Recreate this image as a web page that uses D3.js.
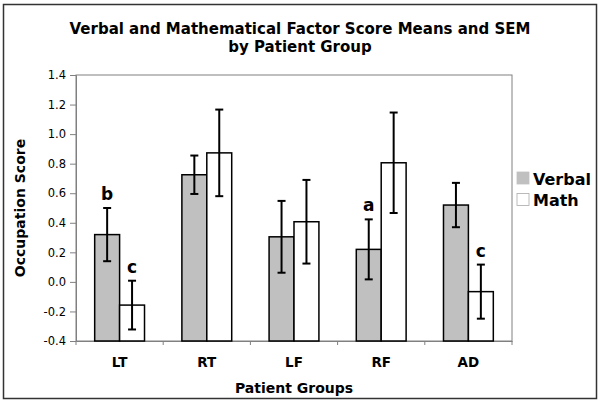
<!DOCTYPE html>
<html><head><meta charset="utf-8">
<script src="https://cdn.jsdelivr.net/npm/d3@7"></script>
<style>body{margin:0;background:#fff}svg{display:block}</style>
</head><body>
<script>
const categories = ["LT","RT","LF","RF","AD"];
const seriesNames = ["Verbal","Math"];
const verbalMeans = [0.32, 0.725, 0.305, 0.22, 0.52];
const verbalSEM   = [0.18, 0.13, 0.243, 0.203, 0.15];
const mathMeans   = [-0.157, 0.873, 0.407, 0.806, -0.066];
const mathSEM     = [0.165, 0.293, 0.283, 0.34, 0.183];
const verbalLetters = ["b","","","a",""];
const mathLetters   = ["c","","","","c"];
const yTicks = [-0.4,-0.2,0.0,0.2,0.4,0.6,0.8,1.0,1.2,1.4];

const W=601,H=403;
const font = "Verdana, 'DejaVu Sans', sans-serif";
const svg = d3.select("body").append("svg").attr("width",W).attr("height",H);
svg.append("rect").attr("x",3.5).attr("y",4.5).attr("width",593).attr("height",394)
  .attr("fill","#fff").attr("stroke","#333").attr("stroke-width",1.5);

const m = {l:76,t:75,r:512,b:341};
const x = d3.scaleBand().domain(categories).range([m.l,m.r]).paddingInner(0).paddingOuter(0);
const xs = d3.scaleBand().domain(seriesNames).range([0,x.bandwidth()]).paddingInner(0).paddingOuter(0.75);
const y = d3.scaleLinear().domain([-0.4,1.4]).range([m.b,m.t]);

// plot border
svg.append("rect").attr("x",m.l).attr("y",m.t).attr("width",m.r-m.l).attr("height",m.b-m.t)
  .attr("fill","none").attr("stroke","#808080").attr("stroke-width",1);

// y axis
const ya = svg.append("g").attr("transform",`translate(${m.l},0)`)
  .call(d3.axisLeft(y).tickValues(yTicks).tickFormat(d3.format(".1f")).tickSize(6).tickPadding(4));
ya.select(".domain").attr("stroke","#808080");
ya.selectAll(".tick line").attr("stroke","#808080");
ya.selectAll("text").attr("font-family",font).attr("font-size",11.5).attr("fill","#000").text(d=>d3.format(".1f")(d).replace("−","-"));

// x axis
const xa = svg.append("g").attr("transform",`translate(0,${m.b})`)
  .call(d3.axisBottom(x).tickSize(0).tickPadding(16));
xa.select(".domain").attr("stroke","#808080");
xa.selectAll("text").attr("font-family",font).attr("font-size",13.5).attr("font-weight","bold").attr("fill","#000");
// boundary ticks
const bounds = categories.map(c=>x(c)).concat([m.r]);
svg.append("g").selectAll("line").data(bounds).join("line")
  .attr("x1",d=>d).attr("x2",d=>d).attr("y1",m.b).attr("y2",m.b+4).attr("stroke","#808080");

const data = categories.map((c,i)=>({c, vals:[
  {s:"Verbal",v:verbalMeans[i],e:verbalSEM[i],l:verbalLetters[i]},
  {s:"Math",v:mathMeans[i],e:mathSEM[i],l:mathLetters[i]}]}));
const fills = {Verbal:"#c0c0c0",Math:"#ffffff"};

const g = svg.append("g").selectAll("g").data(data).join("g").attr("transform",d=>`translate(${x(d.c)},0)`);
const items = g.selectAll("g").data(d=>d.vals).join("g");
items.append("rect")
  .attr("x",d=>xs(d.s)).attr("width",xs.bandwidth())
  .attr("y",d=>y(Math.max(d.v,-0.4)))
  .attr("height",d=>Math.abs(y(d.v)-y(-0.4)))
  .attr("fill",d=>fills[d.s]).attr("stroke","#000").attr("stroke-width",1.5);
const cx = d=>xs(d.s)+xs.bandwidth()/2;
items.append("line").attr("x1",cx).attr("x2",cx).attr("y1",d=>y(d.v+d.e)).attr("y2",d=>y(d.v-d.e))
  .attr("stroke","#000").attr("stroke-width",2);
[1,-1].forEach(sg=>{
  items.append("line").attr("x1",d=>cx(d)-4).attr("x2",d=>cx(d)+4)
    .attr("y1",d=>y(d.v+sg*d.e)).attr("y2",d=>y(d.v+sg*d.e)).attr("stroke","#000").attr("stroke-width",2);
});
items.filter(d=>d.l).append("text").attr("x",cx).attr("y",d=>y(d.v+d.e)-8)
  .attr("text-anchor","middle").attr("font-family",font).attr("font-weight","bold").attr("font-size",17)
  .text(d=>d.l);

// title
const t = svg.append("text").attr("text-anchor","middle").attr("font-family",font)
  .attr("font-weight","bold").attr("font-size",15);
t.append("tspan").attr("x",300).attr("y",34).text("Verbal and Mathematical Factor Score Means and SEM");
t.append("tspan").attr("x",300).attr("y",52).text("by Patient Group");

// axis titles
svg.append("text").attr("transform","translate(25,208) rotate(-90)").attr("text-anchor","middle")
  .attr("font-family",font).attr("font-weight","bold").attr("font-size",14).text("Occupation Score");
svg.append("text").attr("x",294).attr("y",393).attr("text-anchor","middle")
  .attr("font-family",font).attr("font-weight","bold").attr("font-size",14).text("Patient Groups");

// legend
const lg = svg.append("g").selectAll("g").data(seriesNames).join("g")
  .attr("transform",(d,i)=>`translate(517,${172+i*21.5})`);
lg.append("rect").attr("width",12).attr("height",12).attr("fill",d=>fills[d])
  .attr("stroke",d=>d==="Verbal"?"#c0c0c0":"#aaa").attr("stroke-width",0.8);
lg.append("text").attr("x",16).attr("y",12.5).attr("font-family",font).attr("font-weight","bold")
  .attr("font-size",16).text(d=>d);
</script>
</body></html>
